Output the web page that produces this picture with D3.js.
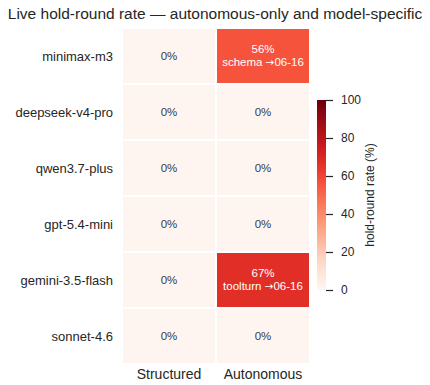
<!DOCTYPE html>
<html>
<head>
<meta charset="utf-8">
<script src="https://cdn.jsdelivr.net/npm/d3@7"></script>
<style>
  body { margin: 0; background: #fff; }
  svg { display: block; font-family: "Liberation Sans", Arial, sans-serif; }
</style>
</head>
<body>
<div id="chart"></div>
<script>
// Live hold-round heatmap: models x mode, colour = hold-round rate (%)
const models = ['minimax-m3', 'deepseek-v4-pro', 'qwen3.7-plus', 'gpt-5.4-mini', 'gemini-3.5-flash', 'sonnet-4.6'];
const modes = ['Structured', 'Autonomous'];
const structuredRate = [0, 0, 0, 0, 0, 0];
const autonomousRate = [56, 0, 0, 0, 67, 0];
const autonomousNote = ['schema', '', '', '', 'toolturn', ''];
const noteDate = '06-16';
const cbTicks = [0, 20, 40, 60, 80, 100];

const width = 430, height = 385;
const svg = d3.select('#chart').append('svg')
    .attr('width', width).attr('height', height);

const cells = [];
models.forEach((m, i) => {
    cells.push({ model: m, mode: modes[0], value: structuredRate[i], note: '' });
    cells.push({ model: m, mode: modes[1], value: autonomousRate[i], note: autonomousNote[i] });
});

const x = d3.scaleBand().domain(modes).range([122, 310]);
const y = d3.scaleBand().domain(models).range([28, 364]);
const color = d3.scaleSequential(d3.interpolateReds).domain([0, 100]);

svg.append('text')
    .attr('x', 215).attr('y', 19)
    .attr('text-anchor', 'middle')
    .attr('font-size', '15.5px').attr('fill', '#262626')
    .text('Live hold-round rate \u2014 autonomous-only and model-specific');

const g = svg.append('g').selectAll('g').data(cells).enter().append('g');

g.append('rect')
    .attr('x', d => x(d.mode) + 1)
    .attr('y', d => y(d.model) + 1)
    .attr('width', x.bandwidth() - 2)
    .attr('height', y.bandwidth() - 2)
    .attr('fill', d => color(d.value));

g.each(function (d) {
    const cx = x(d.mode) + x.bandwidth() / 2;
    const cy = y(d.model) + y.bandwidth() / 2;
    const light = d.value > 40;
    const t = d3.select(this).append('text')
        .attr('text-anchor', 'middle')
        .attr('font-size', '11.5px')
        .attr('fill', light ? '#fff' : '#3a3a3a');
    if (d.note) {
        t.append('tspan').attr('x', cx).attr('y', cy - 3).text(d.value + '%');
        const l2 = t.append('tspan').attr('x', cx).attr('y', cy + 10);
        l2.append('tspan').text(d.note + ' ');
        l2.append('tspan').attr('font-family', '"DejaVu Sans", sans-serif').attr('font-size', '10.5px').text('\u2192');
        l2.append('tspan').text(noteDate);
    } else {
        t.attr('x', cx).attr('y', cy + 4).text(d.value + '%');
    }
});

// row labels
svg.append('g').selectAll('text').data(models).enter().append('text')
    .attr('x', 113)
    .attr('y', d => y(d) + y.bandwidth() / 2 + 4.5)
    .attr('text-anchor', 'end')
    .attr('font-size', '13px').attr('fill', '#262626')
    .text(d => d);

// column labels
svg.append('g').selectAll('text').data(modes).enter().append('text')
    .attr('x', d => x(d) + x.bandwidth() / 2)
    .attr('y', 379)
    .attr('text-anchor', 'middle')
    .attr('font-size', '14px').attr('fill', '#262626')
    .text(d => d);

// colourbar
const cbX = 317, cbW = 9;
const cbY = d3.scaleLinear().domain([0, 100]).range([290, 100]);
const defs = svg.append('defs');
const grad = defs.append('linearGradient').attr('id', 'cb')
    .attr('x1', 0).attr('y1', 1).attr('x2', 0).attr('y2', 0);
d3.range(0, 101, 5).forEach(v => {
    grad.append('stop').attr('offset', v + '%').attr('stop-color', color(v));
});
svg.append('rect')
    .attr('x', cbX).attr('y', cbY(100))
    .attr('width', cbW).attr('height', cbY(0) - cbY(100))
    .attr('fill', 'url(#cb)');

const cbAxis = svg.append('g')
    .attr('transform', `translate(${cbX + cbW},0)`)
    .call(d3.axisRight(cbY).tickValues(cbTicks).tickSize(7).tickPadding(8));
cbAxis.select('.domain').remove();
cbAxis.selectAll('line').attr('stroke', '#262626').attr('stroke-width', 1.2);
cbAxis.selectAll('text').attr('font-size', '12px').attr('fill', '#262626')
    .attr('font-family', '"Liberation Sans", Arial, sans-serif');

svg.append('text')
    .attr('transform', `translate(374,${(cbY(0) + cbY(100)) / 2}) rotate(-90)`)
    .attr('text-anchor', 'middle')
    .attr('font-size', '12px').attr('fill', '#262626')
    .text('hold-round rate (%)');
</script>
</body>
</html>
